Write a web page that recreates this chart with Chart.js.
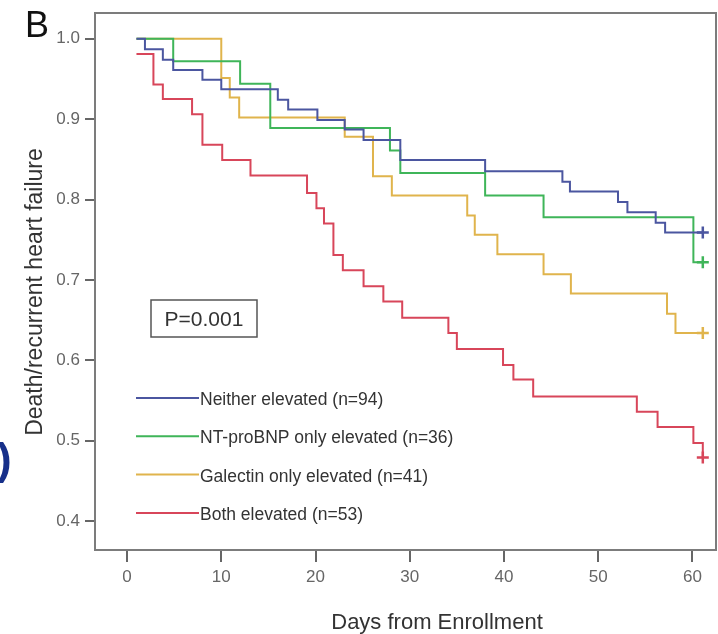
<!DOCTYPE html>
<html>
<head>
<meta charset="utf-8">
<script src="https://cdn.jsdelivr.net/npm/chart.js@4.4.1/dist/chart.umd.min.js"></script>
<style>
  html, body { margin: 0; padding: 0; background: #fff; }
  #wrap { width: 718px; height: 634px; }
</style>
</head>
<body>
<div id="wrap"><canvas id="kmChart" width="718" height="634"></canvas></div>
<script>
// Kaplan-Meier curves, values (day of step, proportion after step)
const neitherDays = [1, 1.9, 3.8, 4.9, 8.0, 10.0, 16.0, 17.1, 20.2, 23.1, 25.1, 29.0, 38.0, 46.2, 47.0, 52.1, 53.1, 56.1, 57.1, 61.1];
const neitherSurv = [1, 0.987, 0.974, 0.961, 0.949, 0.937, 0.924, 0.912, 0.899, 0.887, 0.874, 0.849, 0.835, 0.822, 0.810, 0.797, 0.784, 0.771, 0.759, 0.759];

const ntDays = [1, 4.9, 12.0, 15.2, 27.9, 29.0, 38.0, 44.2, 60.1, 61.1];
const ntSurv = [1, 0.972, 0.944, 0.889, 0.861, 0.833, 0.805, 0.778, 0.722, 0.722];

const galDays = [1, 10.0, 10.9, 11.9, 23.1, 26.1, 28.1, 36.1, 36.9, 39.3, 44.2, 47.1, 57.3, 58.2, 61.1];
const galSurv = [1, 0.951, 0.927, 0.902, 0.878, 0.829, 0.805, 0.780, 0.756, 0.732, 0.707, 0.683, 0.658, 0.634, 0.634];

const bothDays = [1, 2.8, 3.8, 6.9, 8.0, 10.1, 13.1, 19.1, 20.1, 20.9, 21.9, 22.9, 25.1, 27.2, 29.2, 34.1, 35.0, 39.9, 41.0, 43.1, 54.1, 56.3, 60.1, 61.1];
const bothSurv = [0.981, 0.943, 0.925, 0.906, 0.868, 0.849, 0.830, 0.808, 0.789, 0.770, 0.731, 0.712, 0.692, 0.673, 0.653, 0.634, 0.614, 0.594, 0.576, 0.555, 0.536, 0.517, 0.497, 0.479];

const seriesLabels = ['Neither elevated (n=94)', 'NT-proBNP only elevated (n=36)', 'Galectin only elevated (n=41)', 'Both elevated (n=53)'];
const seriesColors = ['#4b56a0', '#3fb559', '#e0b44c', '#d8465a'];

const xTicks = [0, 10, 20, 30, 40, 50, 60];
const yTicks = [0.4, 0.5, 0.6, 0.7, 0.8, 0.9, 1.0];

const pValueText = 'P=0.001';
const FONT = "'Liberation Sans', Arial, sans-serif";

function toPoints(days, surv) {
  return days.map((d, i) => ({ x: d, y: surv[i] }));
}

// last point of each curve gets the censor "+"
function lastOnly(size) {
  return ctx => (ctx.dataIndex === ctx.dataset.data.length - 1 ? size : 0);
}

function makeDataset(i, days, surv) {
  return {
    label: seriesLabels[i],
    data: toPoints(days, surv),
    borderColor: seriesColors[i],
    backgroundColor: seriesColors[i],
    borderWidth: 2,
    stepped: 'before',
    fill: false,
    pointStyle: 'cross',
    pointRadius: lastOnly(6),
    pointBorderWidth: 2.5,
    pointBorderColor: seriesColors[i]
  };
}

// frame, titles, legend, p-value box
const decorations = {
  id: 'decorations',
  afterDraw(chart) {
    const { ctx, chartArea: a } = chart;
    ctx.save();

    ctx.strokeStyle = '#7c7c7c';
    ctx.lineWidth = 2;
    ctx.strokeRect(a.left, a.top, a.right - a.left, a.bottom - a.top);

    // panel letter
    ctx.fillStyle = '#111';
    ctx.font = `36px ${FONT}`;
    ctx.textAlign = 'left';
    ctx.textBaseline = 'alphabetic';
    ctx.fillText('B', 25, 37);

    // bit of the neighbouring panel
    ctx.fillStyle = '#17308a';
    ctx.font = `bold 44px ${FONT}`;
    ctx.fillText(')', -3, 474);

    // axis titles
    ctx.fillStyle = '#333';
    ctx.font = `22px ${FONT}`;
    ctx.textAlign = 'center';
    ctx.fillText('Days from Enrollment', 437, 629);

    ctx.save();
    ctx.translate(42, 292);
    ctx.rotate(-Math.PI / 2);
    ctx.font = `23px ${FONT}`;
    ctx.fillText('Death/recurrent heart failure', 0, 0);
    ctx.restore();

    // p-value box
    ctx.strokeStyle = '#555';
    ctx.lineWidth = 1.5;
    ctx.strokeRect(151, 300, 106, 37);
    ctx.fillStyle = '#333';
    ctx.font = `21px ${FONT}`;
    ctx.textAlign = 'center';
    ctx.fillText(pValueText, 204, 326);

    // legend
    ctx.font = `17.5px ${FONT}`;
    ctx.textAlign = 'left';
    chart.data.datasets.forEach((ds, i) => {
      const y = 398 + i * 38.3;
      ctx.strokeStyle = ds.borderColor;
      ctx.lineWidth = 2;
      ctx.beginPath();
      ctx.moveTo(136, y);
      ctx.lineTo(199, y);
      ctx.stroke();
      ctx.fillStyle = '#333';
      ctx.fillText(ds.label, 200, y + 7);
    });

    ctx.restore();
  }
};

const tickFont = { family: FONT, size: 17 };

new Chart(document.getElementById('kmChart').getContext('2d'), {
  type: 'line',
  data: {
    datasets: [
      makeDataset(0, neitherDays, neitherSurv),
      makeDataset(1, ntDays, ntSurv),
      makeDataset(2, galDays, galSurv),
      makeDataset(3, bothDays, bothSurv)
    ]
  },
  options: {
    responsive: false,
    animation: false,
    events: [],
    layout: { autoPadding: false, padding: { left: 0, top: 13, right: 2, bottom: 0 } },
    plugins: {
      legend: { display: false },
      tooltip: { enabled: false }
    },
    scales: {
      x: {
        type: 'linear',
        min: -3.4,
        max: 62.5,
        afterBuildTicks: scale => { scale.ticks = xTicks.map(v => ({ value: v })); },
        afterFit: scale => {
          scale.height = 84;
          scale.paddingLeft = 0;
          scale.paddingRight = 0;
        },
        grid: { drawOnChartArea: false, drawTicks: true, tickLength: 12, color: '#666', lineWidth: 2 },
        border: { display: false },
        ticks: { font: tickFont, color: '#666', padding: 5, maxRotation: 0 }
      },
      y: {
        type: 'linear',
        min: 0.364,
        max: 1.032,
        afterBuildTicks: scale => { scale.ticks = yTicks.map(v => ({ value: v })); },
        afterFit: scale => {
          scale.width = 95;
          scale.paddingTop = 0;
          scale.paddingBottom = 0;
        },
        grid: { drawOnChartArea: false, drawTicks: true, tickLength: 10, color: '#666', lineWidth: 2 },
        border: { display: false },
        ticks: { font: tickFont, color: '#666', padding: 5, callback: v => v.toFixed(1) }
      }
    }
  },
  plugins: [decorations]
});
</script>
</body>
</html>
